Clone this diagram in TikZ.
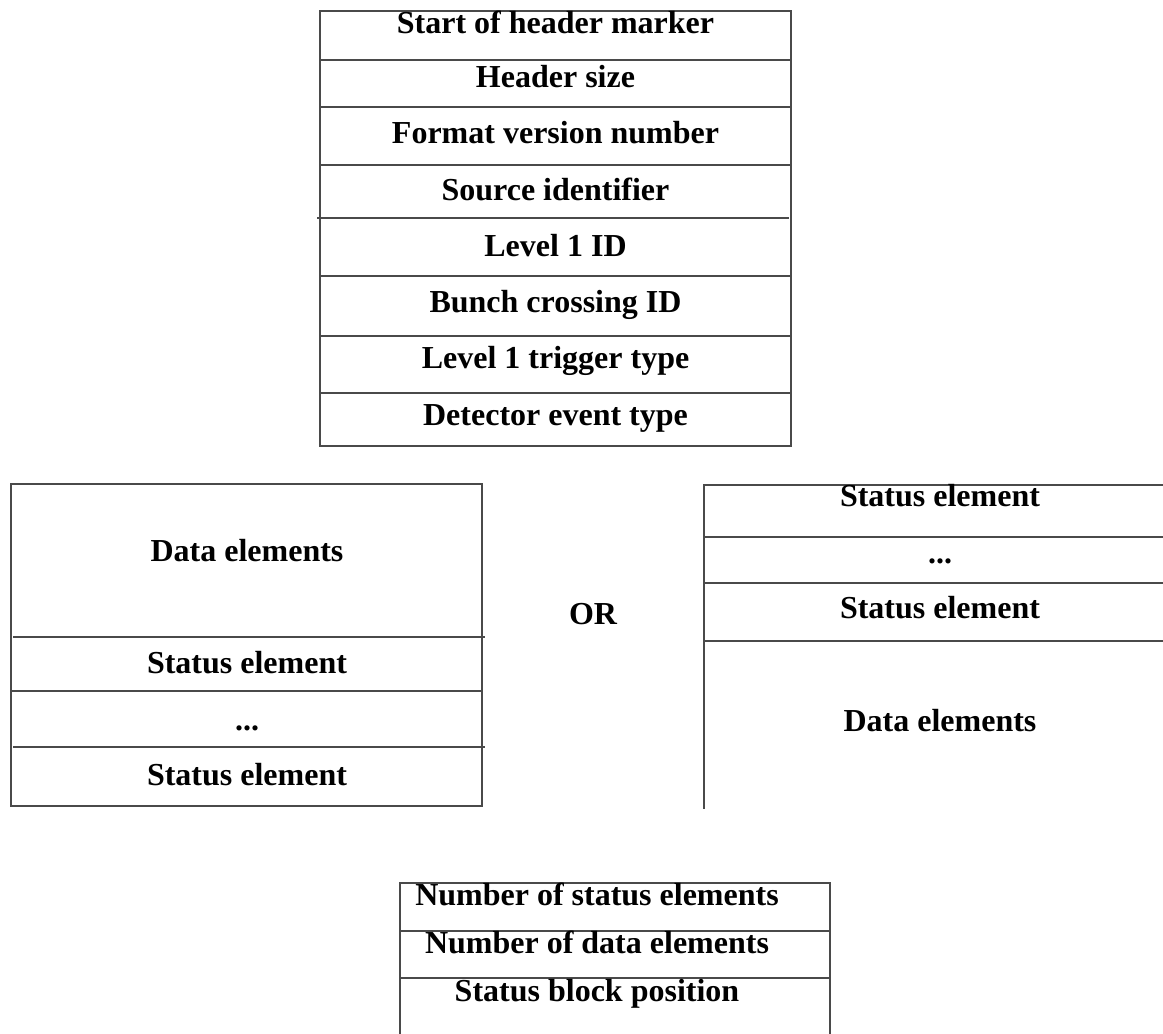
\documentclass[tikz,border=0pt]{standalone}
\usepackage{fontspec}
\setmainfont{Liberation Serif}
\usepackage{xcolor}
\usepackage{tikz}
\usetikzlibrary{positioning}

\definecolor{rulegray}{HTML}{4A4A4A}

\begin{document}
\begin{tikzpicture}[
    x=0.5pt, y=-0.5pt,
    frame/.style={draw=rulegray, line width=1.4pt},
    field/.style={anchor=base, inner sep=0pt, font=\fontsize{16}{19}\selectfont\bfseries}
]
\useasboundingbox (0,0) rectangle (1163,1034);
% header block
\draw[frame] (320,11) rectangle (791,446);
\draw[frame] (320,60) -- (791,60) (320,107) -- (791,107) (320,165) -- (791,165)
             (317,218) -- (789,218) (320,276) -- (791,276) (320,336) -- (791,336)
             (320,393) -- (791,393);
\node[field] (start) at (555.5,33) {Start of header marker};
\node[field] (hsize) at (555.5,87) {Header size};
\node[field] (fmt) at (555.5,143) {Format version number};
\node[field] (src) at (555.5,200) {Source identifier};
\node[field] (lvl) at (555.5,256) {Level 1 ID};
\node[field] (bcid) at (555.5,312) {Bunch crossing ID};
\node[field] (trig) at (555.5,368) {Level 1 trigger type};
\node[field] (det) at (555.5,425) {Detector event type};
% data first, status after
\draw[frame] (11,484) rectangle (482,806);
\draw[frame] (13,637) -- (485,637) (11,691) -- (482,691) (13,747) -- (485,747);
\node[field] (dataA) at (247,561) {Data elements};
\node[field] (statA1) at (247,673) {Status element};
\node[field] (dotsA) at (247,730) {...};
\node[field] (statA2) at (247,785) {Status element};
\node[field] (or) at (593,624) {OR};
% status first, data after
\draw[frame] (1163,485) -- (704,485) -- (704,809);
\draw[frame] (704,537) -- (1163,537) (704,583) -- (1163,583) (704,641) -- (1163,641);
\node[field] (statB1) at (940,506) {Status element};
\node[field] (dotsB) at (940,563) {...};
\node[field] (statB2) at (940,618) {Status element};
\node[field] (dataB) at (940,731) {Data elements};
% trailer block
\draw[frame] (400,1034) -- (400,883) -- (830,883) -- (830,1034);
\draw[frame] (400,931) -- (830,931) (400,978) -- (830,978);
\node[field] (nstat) at (597,905) {Number of status elements};
\node[field] (ndata) at (597,953) {Number of data elements};
\node[field] (spos) at (597,1001) {Status block position};
\end{tikzpicture}
\end{document}
